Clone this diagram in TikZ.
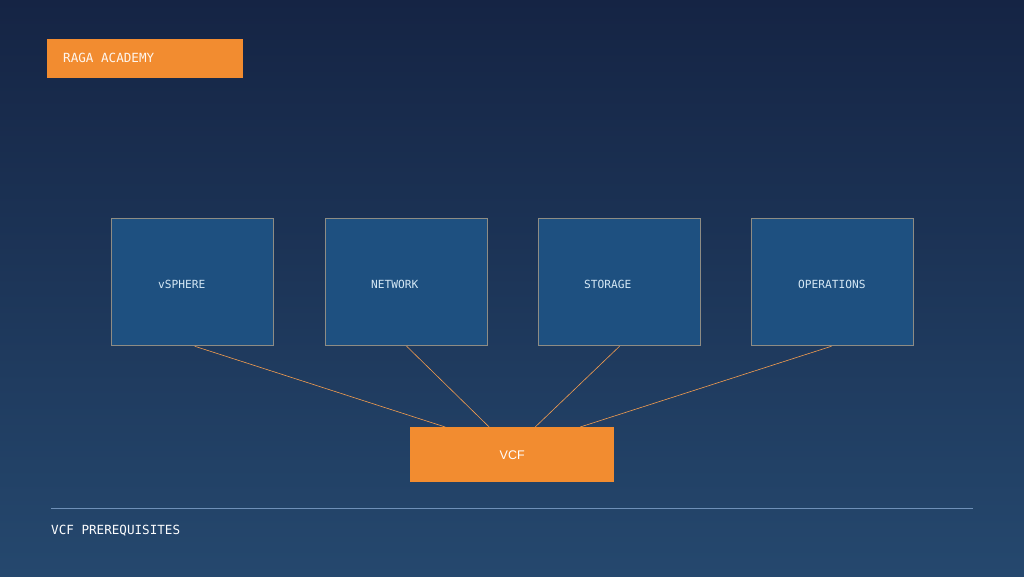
\documentclass[tikz,border=0pt]{standalone}
\usepackage{fontspec}
\setmainfont{Liberation Sans}
\setmonofont{DejaVu Sans Mono}
\definecolor{bgtop}{HTML}{152444}
\definecolor{bgbot}{HTML}{25486E}
\definecolor{tilefill}{HTML}{1E5080}
\definecolor{tileedge}{HTML}{8E8C84}
\definecolor{accent}{HTML}{F28C30}
\definecolor{labeltext}{HTML}{D5E8F5}
\definecolor{rulecol}{HTML}{6F90B8}
\begin{document}
\begin{tikzpicture}[x=1pt,y=-1pt,
    tile/.style={draw=tileedge, line width=1.2pt, fill=tilefill, minimum width=162pt, minimum height=127pt, anchor=north west},
    tilelabel/.style={anchor=west, inner sep=0pt, text=labeltext, font=\ttfamily\fontsize{11.2}{13}\selectfont},
    link/.style={draw=accent!85!white, line width=0.6pt}]
    \shade[top color=bgtop, bottom color=bgbot](0,0)rectangle(1024,576);
    \useasboundingbox(0,0)rectangle(1024,576);
    \node[fill=accent, minimum width=196pt, minimum height=39pt, anchor=north west, inner sep=0pt](brand)at(47,39){};
    \node[anchor=west, inner sep=0pt, text=white!92!accent, font=\ttfamily\fontsize{12.6}{14}\selectfont]at(63,58){RAGA ACADEMY};
    \node[tile](vsphere)at(111,218){};
    \node[tile](network)at(325,218){};
    \node[tile](storage)at(538,218){};
    \node[tile](operations)at(751,218){};
    \node[tilelabel]at(158,284){vSPHERE};
    \node[tilelabel]at(371,284){NETWORK};
    \node[tilelabel]at(584,284){STORAGE};
    \node[tilelabel]at(798,284){OPERATIONS};
    \node[fill=accent, minimum width=204pt, minimum height=55pt, anchor=north west, inner sep=0pt](vcf)at(410,427){};
    \node[text=white, font=\fontsize{12.5}{14}\selectfont]at(vcf){VCF};
    \draw[link]([xshift=2pt]vsphere.south)--([xshift=-67pt]vcf.north);
    \draw[link]([xshift=0pt]network.south)--([xshift=-23pt]vcf.north);
    \draw[link]([xshift=0pt]storage.south)--([xshift=23pt]vcf.north);
    \draw[link]([xshift=-1pt]operations.south)--([xshift=68pt]vcf.north);
    \coordinate(ruleL)at(51,508);
    \coordinate(ruleR)at(973,508);
    \draw[rulecol, line width=1pt](ruleL)--(ruleR);
    \node[anchor=west, inner sep=0pt, text=white!92!labeltext, font=\ttfamily\fontsize{12.6}{14}\selectfont]at(51,531){VCF PREREQUISITES};
\end{tikzpicture}
\end{document}
